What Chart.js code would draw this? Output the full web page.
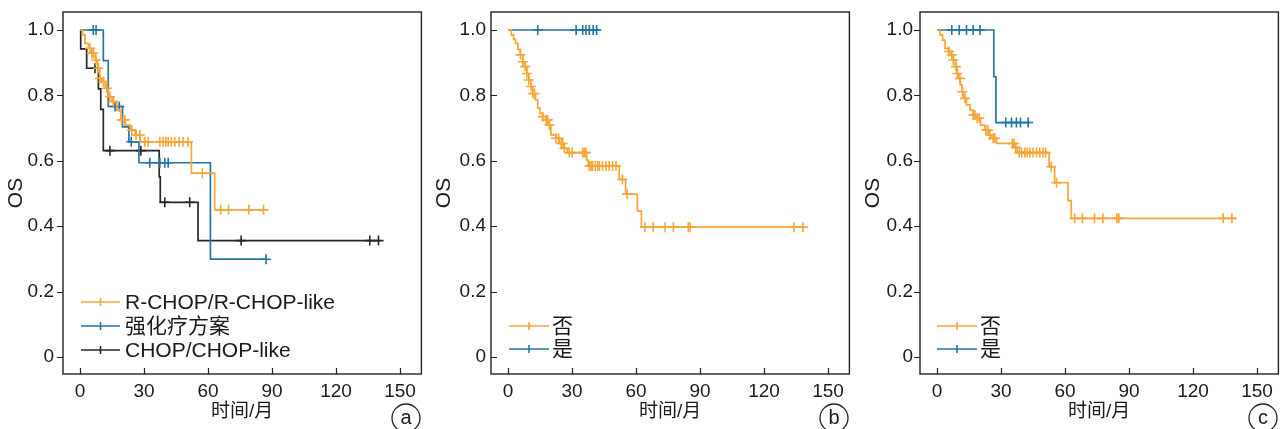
<!DOCTYPE html>
<html>
<head>
<meta charset="utf-8">
<script src="https://cdn.jsdelivr.net/npm/chart.js@4.4.1/dist/chart.umd.min.js"></script>
<style>
  html, body { margin: 0; padding: 0; background: #fff; }
  #wrap { position: relative; width: 1285px; height: 429px; overflow: hidden; }
  canvas { position: absolute; top: 0; }
</style>
</head>
<body>
<div id="wrap">
  <canvas id="chartA" width="428" height="429" style="left:0px"></canvas>
  <canvas id="chartB" width="428" height="429" style="left:428px"></canvas>
  <canvas id="chartC" width="428" height="429" style="left:857px"></canvas>
</div>
<script>
// axis ticks
const xTicks = [0, 30, 60, 90, 120, 150];
const yTicks = [0, 0.2, 0.4, 0.6, 0.8, 1.0];

// (a) treatment regimen
const aRchopTimes = [0, 1.2, 2.3, 3.9, 5.5, 7.1, 8.2, 9.2, 10.3, 11.8, 13.4, 15.0, 17.3, 19.2, 21.2, 23.5, 25.9, 28.2, 52.2, 63.1, 87.0];
const aRchopSurv  = [1, 0.985, 0.959, 0.944, 0.929, 0.908, 0.883, 0.852, 0.842, 0.822, 0.796, 0.781, 0.755, 0.725, 0.709, 0.694, 0.679, 0.658, 0.562, 0.45, 0.45];
const aRchopCens  = [4.7, 5.5, 6.2, 7.5, 8.6, 9.3, 10.9, 12.5, 14.0, 15.6, 19.5, 21.0, 24.2, 26.2, 28.0, 30.4, 31.9, 37.4, 38.9, 40.2, 41.3, 42.8, 44.4, 46.4, 48.3, 50.6, 57.3, 65.9, 69.6, 79.1, 86.0];

const aIntenseTimes = [0, 10.9, 13.2, 19.9, 22.9, 27.6, 61.1, 87.2];
const aIntenseSurv  = [1, 0.906, 0.766, 0.704, 0.658, 0.594, 0.299, 0.299];
const aIntenseCens  = [6.2, 7.5, 16.4, 18.4, 24.0, 32.7, 37.4, 39.7, 41.3, 87.2];

const aChopTimes = [0, 0.3, 3.1, 8.6, 9.7, 10.9, 37.1, 37.6, 55.3, 140.5];
const aChopSurv  = [1, 0.942, 0.883, 0.82, 0.757, 0.631, 0.551, 0.473, 0.356, 0.356];
const aChopCens  = [7.0, 14.0, 28.5, 39.7, 51.4, 75.5, 135.8, 139.9];

// (b)
const bNoTimes = [0, 1.5, 2.6, 3.5, 4.6, 5.7, 6.9, 7.7, 8.8, 9.7, 10.8, 11.6, 12.8, 13.9, 15.0, 16.2, 17.8, 19.0, 20.1, 22.4, 24.0, 26.3, 27.8, 36.8, 37.6, 52.1, 55.1, 60.6, 62.5, 139.0];
const bNoSurv  = [1, 0.985, 0.971, 0.959, 0.941, 0.924, 0.903, 0.888, 0.867, 0.847, 0.827, 0.806, 0.786, 0.761, 0.745, 0.735, 0.725, 0.709, 0.679, 0.669, 0.653, 0.638, 0.625, 0.602, 0.584, 0.543, 0.498, 0.446, 0.397, 0.397];
const bNoCens  = [5.8, 6.9, 8.0, 8.8, 9.7, 10.8, 11.6, 12.4, 16.3, 17.9, 18.6, 19.4, 22.5, 23.7, 24.9, 25.6, 26.4, 28.7, 30.0, 35.0, 35.7, 36.5, 38.1, 38.9, 39.6, 40.9, 42.0, 42.8, 44.3, 45.9, 47.4, 49.0, 50.6, 53.6, 55.8, 64.1, 68.0, 73.6, 77.5, 84.5, 85.3, 134.0, 138.2];
const bYesTimes = [0, 42.8];
const bYesSurv  = [1, 1];
const bYesCens  = [13.9, 31.9, 35.0, 36.5, 38.1, 39.9, 41.5];

// (c)
const cNoTimes = [0, 1.4, 2.6, 3.7, 5.3, 6.1, 7.4, 8.5, 9.3, 10.1, 10.9, 11.7, 12.6, 13.8, 15.4, 16.9, 18.8, 20.4, 22.4, 24.0, 25.5, 27.9, 36.2, 37.6, 52.5, 55.1, 61.4, 62.9, 139.7];
const cNoSurv  = [1, 0.985, 0.969, 0.944, 0.934, 0.924, 0.908, 0.888, 0.867, 0.852, 0.832, 0.811, 0.791, 0.771, 0.755, 0.740, 0.730, 0.709, 0.694, 0.679, 0.669, 0.653, 0.641, 0.625, 0.582, 0.533, 0.478, 0.424, 0.424];
const cNoCens  = [5.7, 6.9, 7.6, 8.9, 9.5, 10.7, 12.0, 13.1, 17.0, 17.8, 18.8, 19.8, 22.9, 23.9, 24.8, 26.3, 27.1, 35.3, 36.1, 36.9, 38.5, 39.6, 41.1, 42.2, 43.5, 45.0, 46.6, 48.1, 49.7, 50.9, 53.5, 56.0, 64.5, 68.1, 73.8, 77.7, 84.3, 85.2, 134.1, 138.2];
const cYesTimes = [0, 26.6, 27.6, 43.4];
const cYesSurv  = [1, 0.857, 0.717, 0.717];
const cYesCens  = [6.9, 10.4, 13.8, 16.9, 20.1, 32.2, 34.9, 37.2, 39.1, 42.7];

const ORANGE = "#F7A637";
const BLUE = "#2276A2";
const BLACK = "#262626";
const FONT = "'Liberation Sans', Arial, 'Noto Sans CJK SC', sans-serif";

// survival level at time t (for censor marks)
function survAt(times, surv, t) {
    let s = surv[0];
    for (let i = 0; i < times.length; i++) {
        if (times[i] <= t) s = surv[i];
    }
    return s;
}

function curveSets(label, color, times, surv, cens) {
    return [{
        label: label,
        data: times.map((t, i) => ({ x: t, y: surv[i] })),
        showLine: true,
        stepped: true,
        borderColor: color,
        borderWidth: 1.7,
        pointRadius: 0,
        fill: false
    }, {
        label: label + " censor",
        data: cens.map(t => ({ x: t, y: survAt(times, surv, t) })),
        showLine: false,
        pointStyle: "cross",
        pointRadius: 5,
        borderColor: color,
        borderWidth: 1.6
    }];
}

// 📌 frame, inward/outward ticks, legend and panel letter
const framePlugin = {
    id: "frame",
    afterDatasetsDraw(chart, args, opts) {
        const ctx = chart.ctx;
        const { left, right, top, bottom } = chart.chartArea;
        ctx.save();
        ctx.strokeStyle = "#222";
        ctx.lineWidth = 1.4;
        ctx.strokeRect(left, top, right - left, bottom - top);
        ctx.lineWidth = 1.2;
        ctx.beginPath();
        xTicks.forEach(v => {
            const px = Math.round(chart.scales.x.getPixelForValue(v)) + 0.5;
            ctx.moveTo(px, bottom);
            ctx.lineTo(px, bottom - 6);
        });
        yTicks.forEach(v => {
            const py = Math.round(chart.scales.y.getPixelForValue(v)) + 0.5;
            ctx.moveTo(left, py);
            ctx.lineTo(left + opts.yTickDir * 6, py);
        });
        ctx.stroke();

        // legend
        ctx.font = "21px " + FONT;
        ctx.textBaseline = "middle";
        ctx.textAlign = "left";
        opts.legend.forEach((item, i) => {
            const y = opts.legendY[i];
            ctx.strokeStyle = item.color;
            ctx.lineWidth = 1.6;
            ctx.beginPath();
            ctx.moveTo(opts.legendX0, y);
            ctx.lineTo(opts.legendX1, y);
            const mx = (opts.legendX0 + opts.legendX1) / 2;
            ctx.moveTo(mx - 4, y);
            ctx.lineTo(mx + 4, y);
            ctx.moveTo(mx, y - 4);
            ctx.lineTo(mx, y + 4);
            ctx.stroke();
            ctx.fillStyle = "#1a1a1a";
            ctx.fillText(item.text, opts.legendTextX, y + 1);
        });

        // panel letter
        ctx.strokeStyle = "#222";
        ctx.lineWidth = 1.3;
        ctx.beginPath();
        ctx.arc(opts.letterX, opts.letterY, 14, 0, Math.PI * 2);
        ctx.stroke();
        ctx.fillStyle = "#1a1a1a";
        ctx.font = "20px " + FONT;
        ctx.textAlign = "center";
        ctx.fillText(opts.letter, opts.letterX, opts.letterY);
        ctx.restore();
    }
};

function makePanel(id, datasets, frameOpts, yPad) {
    return new Chart(document.getElementById(id), {
        type: "scatter",
        data: { datasets: datasets },
        options: {
            responsive: false,
            animation: false,
            events: [],
            layout: { padding: { top: 12, right: 6, left: 0, bottom: 0 } },
            plugins: {
                legend: { display: false },
                tooltip: { enabled: false },
                frame: frameOpts
            },
            scales: {
                x: {
                    type: "linear",
                    min: -8,
                    max: 160,
                    afterBuildTicks: s => { s.ticks = xTicks.map(v => ({ value: v })); },
                    afterFit: s => { s.height = 55; s.paddingLeft = 0; s.paddingRight = 0; },
                    grid: { display: false, drawTicks: false },
                    border: { display: false },
                    ticks: { padding: 6, color: "#1a1a1a", font: { family: FONT, size: 19 }, maxRotation: 0 },
                    title: { display: true, text: "时间/月", color: "#1a1a1a", font: { family: FONT, size: 19 }, padding: { top: 0, bottom: 6 } }
                },
                y: {
                    type: "linear",
                    min: -0.052,
                    max: 1.055,
                    afterBuildTicks: s => { s.ticks = yTicks.map(v => ({ value: v })); },
                    afterFit: s => { s.width = 63; s.paddingTop = 0; s.paddingBottom = 0; },
                    grid: { display: false, drawTicks: false },
                    border: { display: false },
                    ticks: {
                        padding: yPad,
                        color: "#1a1a1a",
                        font: { family: FONT, size: 19 },
                        callback: v => (v === 0 ? "0" : v.toFixed(1))
                    },
                    title: { display: true, text: "OS", color: "#1a1a1a", font: { family: FONT, size: 21 }, padding: { top: 4, bottom: 0 } }
                }
            }
        },
        plugins: [framePlugin]
    });
}

makePanel("chartA", [
    ...curveSets("R-CHOP/R-CHOP-like", ORANGE, aRchopTimes, aRchopSurv, aRchopCens),
    ...curveSets("强化疗方案", BLUE, aIntenseTimes, aIntenseSurv, aIntenseCens),
    ...curveSets("CHOP/CHOP-like", BLACK, aChopTimes, aChopSurv, aChopCens)
], {
    yTickDir: -1,
    legend: [
        { text: "R-CHOP/R-CHOP-like", color: ORANGE },
        { text: "强化疗方案", color: BLUE },
        { text: "CHOP/CHOP-like", color: BLACK }
    ],
    legendY: [302, 326, 350],
    legendX0: 81, legendX1: 120, legendTextX: 125,
    letter: "a", letterX: 406, letterY: 418
}, 9);

makePanel("chartB", [
    ...curveSets("否", ORANGE, bNoTimes, bNoSurv, bNoCens),
    ...curveSets("是", BLUE, bYesTimes, bYesSurv, bYesCens)
], {
    yTickDir: 1,
    legend: [
        { text: "否", color: ORANGE },
        { text: "是", color: BLUE }
    ],
    legendY: [326, 349],
    legendX0: 81, legendX1: 121, legendTextX: 124,
    letter: "b", letterX: 406, letterY: 418
}, 5);

makePanel("chartC", [
    ...curveSets("否", ORANGE, cNoTimes, cNoSurv, cNoCens),
    ...curveSets("是", BLUE, cYesTimes, cYesSurv, cYesCens)
], {
    yTickDir: -1,
    legend: [
        { text: "否", color: ORANGE },
        { text: "是", color: BLUE }
    ],
    legendY: [326, 349],
    legendX0: 80, legendX1: 120, legendTextX: 123,
    letter: "c", letterX: 406, letterY: 418
}, 7);
</script>
</body>
</html>
